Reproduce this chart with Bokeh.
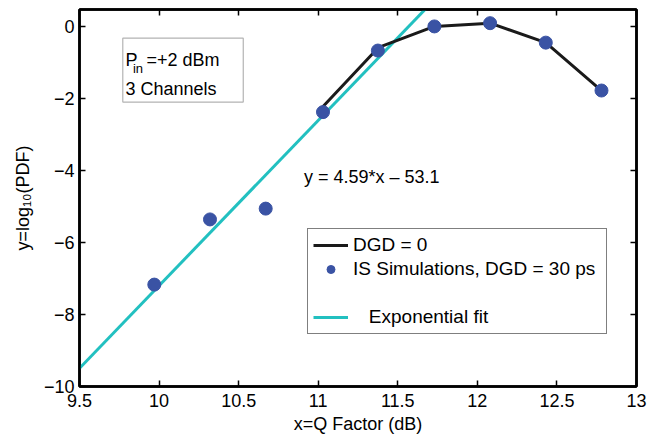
from bokeh.plotting import figure
from bokeh.models import Range1d, FixedTicker, LinearAxis, Legend, LegendItem, Label, BoxAnnotation
from bokeh.embed import file_html
from bokeh.resources import INLINE

# ---- data ----
is_x = [9.97, 10.32, 10.67, 11.03, 11.375, 11.73, 12.08, 12.43, 12.78]
is_y = [-7.17, -5.36, -5.06, -2.38, -0.67, 0.0, 0.09, -0.45, -1.78]

dgd_x = [11.02, 11.38, 11.73, 12.08, 12.43, 12.78]
dgd_y = [-2.27, -0.58, 0.0, 0.09, -0.45, -1.78]

fit_x = [9.5, 11.75]
fit_y = [-9.495, 0.8325]

x_ticks = [9.5, 10, 10.5, 11, 11.5, 12, 12.5, 13]
x_tick_labels = ["9.5", "10", "10.5", "11", "11.5", "12", "12.5", "13"]
y_ticks = [-10, -8, -6, -4, -2, 0]
y_tick_labels = ["\u221210", "\u22128", "\u22126", "\u22124", "\u22122", "0"]

FONT = "Liberation Sans"
FS = "18px"

p = figure(frame_width=557, frame_height=377,
           min_border_left=79, min_border_right=11, min_border_top=9, min_border_bottom=52,
           x_range=Range1d(9.5, 13), y_range=Range1d(-10, 0.47),
           output_backend="svg", toolbar_location=None,
           background_fill_color="white", border_fill_color="white")
p.grid.visible = False
p.outline_line_color = "black"
p.outline_line_width = 2.5

def style_axis(ax):
    ax.major_tick_in = 6
    ax.major_tick_out = 0
    ax.minor_tick_in = 0
    ax.minor_tick_out = 0
    ax.major_tick_line_width = 1.5
    ax.major_tick_line_color = "black"
    ax.axis_line_color = "black"
    ax.axis_line_width = 2.5
    ax.major_label_text_font = FONT
    ax.major_label_text_font_size = FS
    ax.major_label_text_color = "black"
    ax.axis_label_text_font = FONT
    ax.axis_label_text_font_size = FS
    ax.axis_label_text_font_style = "normal"
    ax.axis_label_text_color = "black"

xa = p.xaxis[0]
xa.ticker = FixedTicker(ticks=x_ticks)
xa.major_label_overrides = dict(zip(x_ticks, x_tick_labels))
xa.axis_label = "x=Q Factor (dB)"
style_axis(xa)
xa.major_label_standoff = 7
xa.axis_label_standoff = 4

ya = p.yaxis[0]
ya.ticker = FixedTicker(ticks=y_ticks)
ya.major_label_overrides = dict(zip(y_ticks, y_tick_labels))
ya.axis_label = "y=log\u2081\u2080(PDF)"
style_axis(ya)
ya.major_label_standoff = 5
ya.axis_label_standoff = 8

# box-style axes on top and right: ticks only, no labels
top = LinearAxis(ticker=FixedTicker(ticks=x_ticks))
style_axis(top)
top.major_label_text_font_size = "0px"
top.major_label_standoff = 0
top.major_label_overrides = {t: "" for t in x_ticks}
p.add_layout(top, "above")

right = LinearAxis(ticker=FixedTicker(ticks=y_ticks))
style_axis(right)
right.major_label_text_font_size = "0px"
right.major_label_standoff = 0
right.major_label_overrides = {t: "" for t in y_ticks}
p.add_layout(right, "right")

# glyphs
fit_r = p.line(fit_x, fit_y, line_color="#22c0c0", line_width=3)
dgd_r = p.line(dgd_x, dgd_y, line_color="#1a1a1a", line_width=3)
is_r = p.scatter(is_x, is_y, size=13, fill_color="#3a53a4", line_color="#3a53a4")
dummy = p.line([], [], line_alpha=0)

# annotation box
box = BoxAnnotation(left=9.772, right=10.529, top=-0.325, bottom=-2.10,
                    fill_color="white", fill_alpha=1, line_color="black", line_width=1.2)
p.add_layout(box)

p.add_layout(Label(x=9.789, y=-0.925, text="P", text_font=FONT, text_font_size=FS,
                   text_baseline="alphabetic", text_color="black"))
p.add_layout(Label(x=9.836, y=-1.175, text="in", text_font=FONT, text_font_size="13px",
                   text_baseline="alphabetic", text_color="black"))
p.add_layout(Label(x=9.921, y=-0.925, text="=+2 dBm", text_font=FONT, text_font_size=FS,
                   text_baseline="alphabetic", text_color="black"))
p.add_layout(Label(x=9.789, y=-1.73, text="3 Channels", text_font=FONT, text_font_size=FS,
                   text_baseline="alphabetic", text_color="black"))

p.add_layout(Label(x=10.91, y=-4.19, text="y = 4.59*x \u2013 53.1", text_font=FONT,
                   text_font_size=FS, text_baseline="alphabetic", text_color="black"))

legend = Legend(items=[
    LegendItem(label="DGD = 0", renderers=[dgd_r]),
    LegendItem(label="IS Simulations, DGD = 30 ps\u00a0", renderers=[is_r]),
    LegendItem(label="\u00a0", renderers=[dummy]),
    LegendItem(label="\u00a0\u00a0\u00a0Exponential fit", renderers=[fit_r]),
], location=(228, 52))
legend.label_text_font = FONT
legend.label_text_font_size = "19px"
legend.label_text_color = "black"
legend.glyph_width = 35
legend.glyph_height = 20
legend.label_height = 20
legend.label_standoff = 5
legend.spacing = 2
legend.padding = 5
legend.margin = 0
legend.border_line_color = "black"
legend.border_line_width = 1.5
legend.background_fill_color = "white"
legend.background_fill_alpha = 1
p.add_layout(legend)

open("out.html", "w").write(file_html(p, INLINE))
